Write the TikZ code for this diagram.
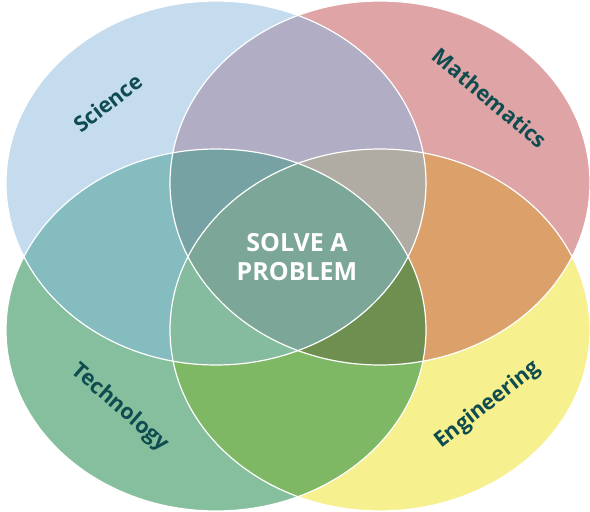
\documentclass[tikz,border=0pt]{standalone}
\usepackage{fontspec}
\setmainfont{Open Sans}
\usepackage{tikz}
\usetikzlibrary{positioning}
% region colours
\definecolor{sci}{RGB}{196,220,238}
\definecolor{mat}{RGB}{222,164,166}
\definecolor{tec}{RGB}{134,191,157}
\definecolor{eng}{RGB}{247,240,142}
\definecolor{scimat}{RGB}{177,173,196}
\definecolor{scitec}{RGB}{132,188,191}
\definecolor{mateng}{RGB}{220,161,106}
\definecolor{teceng}{RGB}{127,184,100}
\definecolor{scimattec}{RGB}{119,162,163}
\definecolor{scimateng}{RGB}{176,171,163}
\definecolor{scitececeng}{RGB}{133,187,158}
\definecolor{mattececeng}{RGB}{111,143,80}
\definecolor{allfour}{RGB}{123,166,152}
\definecolor{labeltext}{RGB}{14,76,80}
\newcommand{\ovalsci}{(216,183) ellipse [x radius=210pt, y radius=182pt]}
\newcommand{\ovalmat}{(380,183) ellipse [x radius=210pt, y radius=182pt]}
\newcommand{\ovaltec}{(216,330) ellipse [x radius=210pt, y radius=181pt]}
\newcommand{\ovaleng}{(380,330) ellipse [x radius=210pt, y radius=181pt]}
\tikzstyle{subject}=[inner sep=0pt, text=labeltext, font=\bfseries\fontsize{21.5}{21.5}\selectfont]
\tikzstyle{rim}=[draw=white, line width=1.2pt]

\begin{document}
\begin{tikzpicture}[x=1pt, y=-1pt]
\useasboundingbox (0,0) rectangle (590,512);
% the four subjects
\fill[sci] \ovalsci;
\fill[mat] \ovalmat;
\fill[tec] \ovaltec;
\fill[eng] \ovaleng;
% the pairs
\begin{scope}
\clip \ovalsci;
\fill[scimat] \ovalmat;
\fill[scitec] \ovaltec;
\end{scope}
\begin{scope}
\clip \ovaleng;
\fill[mateng] \ovalmat;
\fill[teceng] \ovaltec;
\end{scope}
% the triples
\begin{scope}
\clip \ovalsci; \clip \ovalmat;
\fill[scimattec] \ovaltec;
\fill[scimateng] \ovaleng;
\end{scope}
\begin{scope}
\clip \ovaltec; \clip \ovaleng;
\fill[scitececeng] \ovalsci;
\fill[mattececeng] \ovalmat;
\end{scope}
% all four
\begin{scope}
\clip \ovalsci; \clip \ovalmat; \clip \ovaltec;
\fill[allfour] \ovaleng;
\end{scope}
% the white rims
\draw[rim] \ovalsci;
\draw[rim] \ovalmat;
\draw[rim] \ovaltec;
\draw[rim] \ovaleng;
% the labels
\node[subject, rotate=38] (sci) at (108,103) {Science};
\node[subject, rotate=-40] (mat) at (490,98) {Mathematics};
\node[subject, rotate=-41] (tec) at (120,408) {Technology};
\node[subject, rotate=38] (eng) at (488,405) {Engineering};
\node[align=center, text=white, font=\bfseries\fontsize{25}{29}\selectfont] (goal) at (297,257) {SOLVE A\\PROBLEM};
\end{tikzpicture}
\end{document}
